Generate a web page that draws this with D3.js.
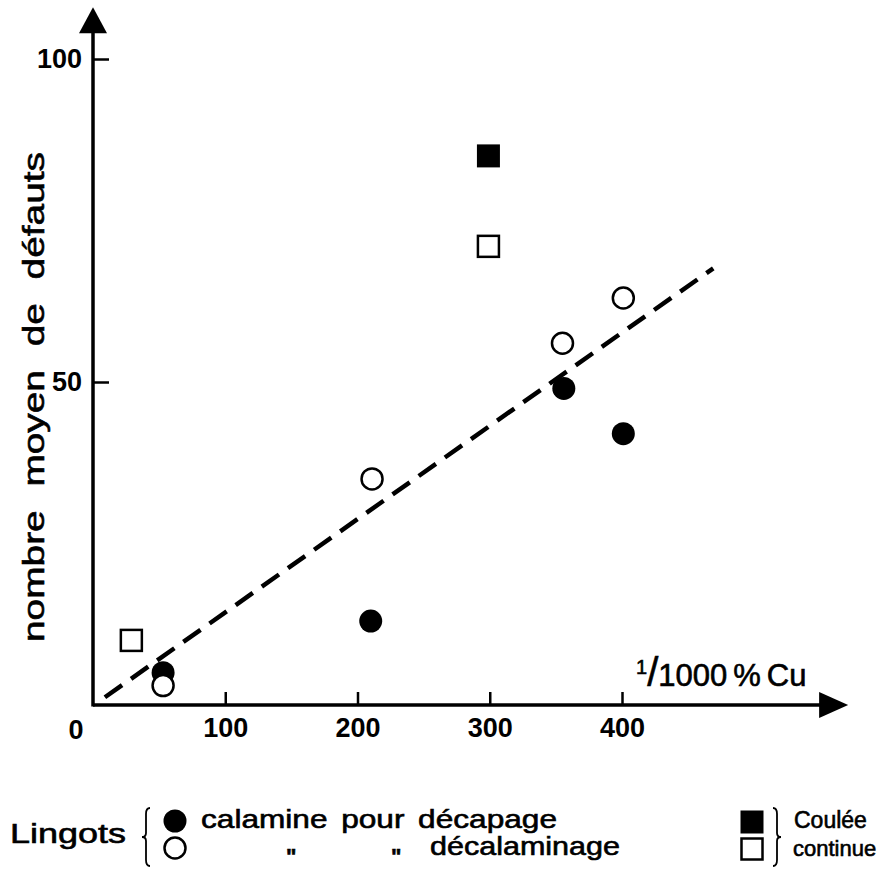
<!DOCTYPE html>
<html>
<head>
<meta charset="utf-8">
<script src="https://cdn.jsdelivr.net/npm/d3@7"></script>
<style>
  body { margin: 0; background: #fff; }
  svg text { font-family: "Liberation Sans", Arial, sans-serif; fill: #000; }
  svg text.heavy { stroke: #000; stroke-width: 0.6px; }
</style>
</head>
<body>
<svg id="chart"></svg>
<script>
// values (x in 1/1000 % Cu, y = mean number of defects)
const calaminePts = [[53, 5], [210, 13], [356, 49], [401, 42]];
const decalaminagePts = [[53, 3], [211, 35], [355, 56], [401, 63]];
const couleeFilled = [[299, 85]];
const couleeOpen = [[299, 71], [29, 10]];
const trendLine = [[9, 1.2], [469, 67.6]];

const xTicks = [100, 200, 300, 400];
const yTicks = [50, 100];
const legendLeft = ['calamine pour décapage', 'décalaminage'];
const legendRight = ['Coulée', 'continue'];

const W = 878, H = 869;
const svg = d3.select('#chart').attr('width', W).attr('height', H);

const x = d3.scaleLinear().domain([0, 400]).range([93, 622]);
const y = d3.scaleLinear().domain([0, 100]).range([705, 59]);
const xEnd = 571, yEnd = 108; // arrow tips, data units

// axes lines + arrows
const axes = svg.append('g').attr('stroke', '#000').attr('fill', '#000');
axes.append('line')
  .attr('x1', x(0)).attr('y1', y(0))
  .attr('x2', x(xEnd) - 20).attr('y2', y(0))
  .attr('stroke-width', 3.5);
axes.append('path')
  .attr('d', `M${x(xEnd)},${y(0)} L${x(xEnd) - 29},${y(0) - 13} L${x(xEnd) - 29},${y(0) + 13} Z`)
  .attr('stroke', 'none');
axes.append('line')
  .attr('x1', x(0)).attr('y1', y(0) + 1.5)
  .attr('x2', x(0)).attr('y2', y(yEnd) + 20)
  .attr('stroke-width', 3.5);
axes.append('path')
  .attr('d', `M${x(0)},${y(yEnd)} L${x(0) - 14},${y(yEnd) + 26} L${x(0) + 14},${y(yEnd) + 26} Z`)
  .attr('stroke', 'none');

const xAxis = svg.append('g')
  .attr('transform', `translate(0,${y(0)})`)
  .call(d3.axisBottom(x).tickValues(xTicks).tickSize(-13).tickPadding(13))
  .call((g) => g.select('.domain').remove());
xAxis.selectAll('line').attr('stroke', '#000').attr('stroke-width', 2.5);
xAxis.selectAll('text')
  .attr('font-size', 27).attr('font-weight', 'bold')
  .attr('font-family', '"Liberation Sans", Arial, sans-serif')
  .attr('fill', '#000');

const yAxis = svg.append('g')
  .attr('transform', `translate(${x(0)},0)`)
  .call(d3.axisLeft(y).tickValues(yTicks).tickSize(-16).tickPadding(11))
  .call((g) => g.select('.domain').remove());
yAxis.selectAll('line').attr('stroke', '#000').attr('stroke-width', 2.5);
yAxis.selectAll('text')
  .attr('font-size', 27).attr('font-weight', 'bold')
  .attr('font-family', '"Liberation Sans", Arial, sans-serif')
  .attr('fill', '#000');

svg.append('text')
  .attr('x', x(0) - 17).attr('y', y(0) + 34)
  .attr('text-anchor', 'middle')
  .attr('font-size', 27).attr('font-weight', 'bold')
  .text('0');

// axis titles
svg.append('text')
  .attr('class', 'heavy')
  .attr('transform', `translate(44,${(152 + 642) / 2}) rotate(-90)`)
  .attr('text-anchor', 'middle')
  .attr('font-size', 30)
  .attr('word-spacing', 10)
  .attr('textLength', 490).attr('lengthAdjust', 'spacingAndGlyphs')
  .text('nombre moyen de défauts');

const xt = svg.append('text')
  .attr('class', 'heavy')
  .attr('x', 636).attr('y', y(0) - 19)
  .attr('font-size', 31);
xt.append('tspan').attr('font-size', 20).attr('dy', -12).text('1');
xt.append('tspan').attr('font-size', 40).attr('dy', 12).text('/');
xt.append('tspan').text('1000');
xt.append('tspan').attr('dx', 6).text('%');
xt.append('tspan').attr('dx', 6).text('Cu');

// trend line
const line = d3.line().x((d) => x(d[0])).y((d) => y(d[1]));
svg.append('path')
  .datum(trendLine)
  .attr('d', line)
  .attr('fill', 'none')
  .attr('stroke', '#000')
  .attr('stroke-width', 4.5)
  .attr('stroke-dasharray', '21 11');

// points
const r = 11.5;
const sq = 23;
svg.append('g').selectAll('circle')
  .data(calaminePts)
  .join('circle')
  .attr('cx', (d) => x(d[0])).attr('cy', (d) => y(d[1]))
  .attr('r', r).attr('fill', '#000');
svg.append('g').selectAll('circle')
  .data(decalaminagePts)
  .join('circle')
  .attr('cx', (d) => x(d[0])).attr('cy', (d) => y(d[1]))
  .attr('r', r - 1).attr('fill', '#fff')
  .attr('stroke', '#000').attr('stroke-width', 2.5);
svg.append('g').selectAll('rect')
  .data(couleeFilled)
  .join('rect')
  .attr('x', (d) => x(d[0]) - sq / 2).attr('y', (d) => y(d[1]) - sq / 2)
  .attr('width', sq).attr('height', sq).attr('fill', '#000');
svg.append('g').selectAll('rect')
  .data(couleeOpen)
  .join('rect')
  .attr('x', (d) => x(d[0]) - sq / 2 + 1).attr('y', (d) => y(d[1]) - sq / 2 + 1)
  .attr('width', sq - 2).attr('height', sq - 2)
  .attr('fill', '#fff').attr('stroke', '#000').attr('stroke-width', 2.5);

// legend
const leg = svg.append('g');
leg.append('text').attr('class', 'heavy').attr('x', 10).attr('y', 843)
  .attr('font-size', 27).attr('textLength', 116).attr('lengthAdjust', 'spacingAndGlyphs')
  .text('Lingots');

function brace(cx, top, bot, dir) {
  const mid = (top + bot) / 2;
  const p = d3.path();
  p.moveTo(cx + 4 * dir, top);
  p.quadraticCurveTo(cx, top, cx, top + 6);
  p.lineTo(cx, mid - 4);
  p.quadraticCurveTo(cx, mid, cx - 4 * dir, mid);
  p.quadraticCurveTo(cx, mid, cx, mid + 4);
  p.lineTo(cx, bot - 6);
  p.quadraticCurveTo(cx, bot, cx + 4 * dir, bot);
  return p.toString();
}
leg.append('path').attr('d', brace(146, 808, 866, 1))
  .attr('fill', 'none').attr('stroke', '#000').attr('stroke-width', 1.8);
leg.append('path').attr('d', brace(777, 808, 866, -1))
  .attr('fill', 'none').attr('stroke', '#000').attr('stroke-width', 1.8);

leg.append('circle').attr('cx', 175).attr('cy', 821).attr('r', r).attr('fill', '#000');
leg.append('circle').attr('cx', 175).attr('cy', 848).attr('r', r - 1)
  .attr('fill', '#fff').attr('stroke', '#000').attr('stroke-width', 2.5);
leg.append('text').attr('class', 'heavy').attr('x', 201).attr('y', 828)
  .attr('font-size', 26).attr('word-spacing', 4)
  .attr('textLength', 356).attr('lengthAdjust', 'spacingAndGlyphs')
  .text(legendLeft[0]);
leg.append('text').attr('class', 'heavy').attr('x', 286).attr('y', 864)
  .attr('font-size', 22).attr('font-weight', 'bold').text('"');
leg.append('text').attr('class', 'heavy').attr('x', 391).attr('y', 864)
  .attr('font-size', 22).attr('font-weight', 'bold').text('"');
leg.append('text').attr('class', 'heavy').attr('x', 430).attr('y', 855)
  .attr('font-size', 26).attr('textLength', 190).attr('lengthAdjust', 'spacingAndGlyphs')
  .text(legendLeft[1]);

leg.append('rect').attr('x', 752 - sq / 2).attr('y', 822 - sq / 2)
  .attr('width', sq).attr('height', sq).attr('fill', '#000');
leg.append('rect').attr('x', 752 - sq / 2 + 1).attr('y', 849 - sq / 2 + 1)
  .attr('width', sq - 2).attr('height', sq - 2)
  .attr('fill', '#fff').attr('stroke', '#000').attr('stroke-width', 2.5);
leg.append('text').attr('class', 'heavy').attr('x', 794).attr('y', 828)
  .attr('font-size', 23)
  .text(legendRight[0]);
leg.append('text').attr('class', 'heavy').attr('x', 793).attr('y', 856)
  .attr('font-size', 22)
  .text(legendRight[1]);
</script>
</body>
</html>
